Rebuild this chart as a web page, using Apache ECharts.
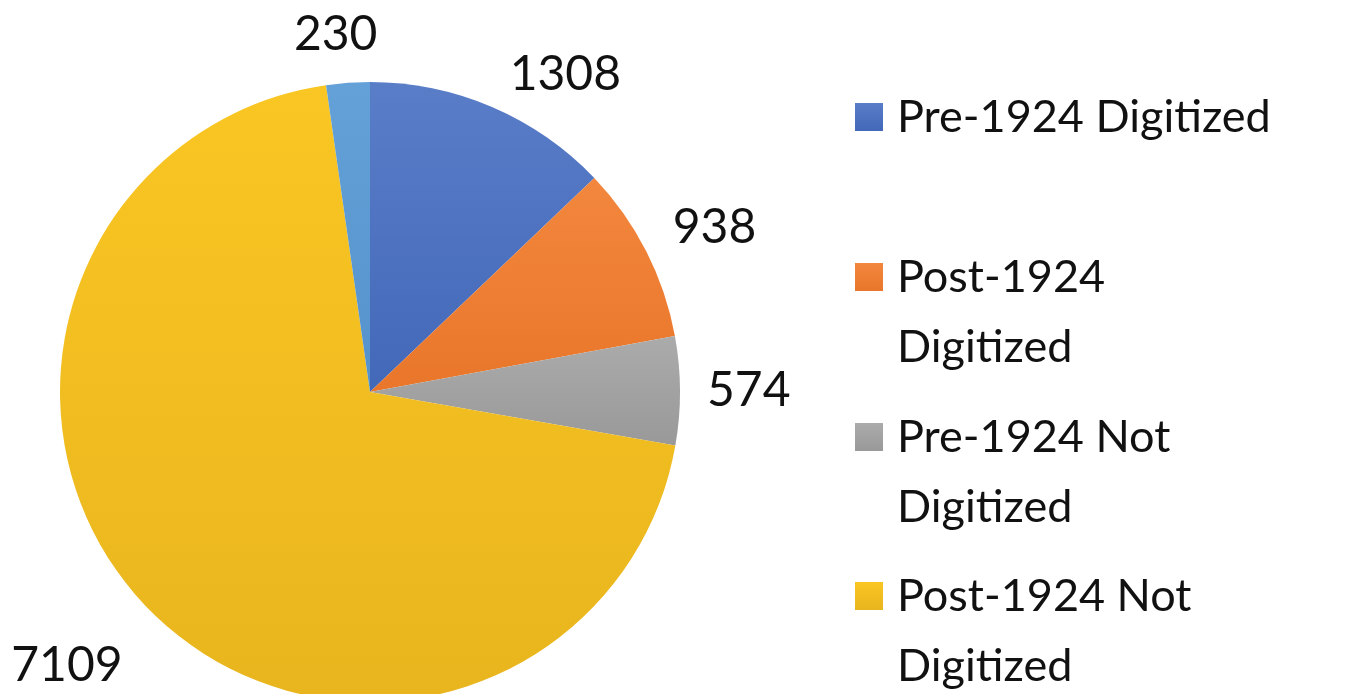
<!DOCTYPE html>
<html>
<head>
<meta charset="utf-8">
<script src="https://cdn.jsdelivr.net/npm/echarts@6/dist/echarts.min.js"></script>
<style>
  html, body { margin: 0; padding: 0; background: #ffffff; }
  #chart { width: 1360px; height: 694px; }
</style>
</head>
<body>
<div id="chart"></div>
<script>
// Holdings split by publication date and digitization status
const categories = [
  'Pre-1924 Digitized',
  'Post-1924 Digitized',
  'Pre-1924 Not Digitized',
  'Post-1924 Not Digitized',
  'Unclassified'
];
const counts = [1308, 938, 574, 7109, 230];
// Legend captions as wrapped in the key (the last slice has no key entry)
const legendCaptions = [
  'Pre-1924 Digitized',
  'Post-1924\nDigitized',
  'Pre-1924 Not\nDigitized',
  'Post-1924 Not\nDigitized'
];
const sliceColors = [
  ['#5a7dc8', '#4268b8'],
  ['#f2873d', '#e9762a'],
  ['#ababab', '#999999'],
  ['#fac623', '#e8b51e'],
  ['#63a1d8', '#5592cc']
];
// Small nudges for the value labels, per slice
const labelNudge = [[0, -12], [-2, -14], [-4, 0], [0, 42], [40, -26]];

const FONT = 'Lato, "Open Sans", sans-serif';

function grad(pair) {
  return new echarts.graphic.LinearGradient(0, 0, 0, 1, [
    { offset: 0, color: pair[0] },
    { offset: 1, color: pair[1] }
  ]);
}

const pieData = categories.map((name, i) => ({
  name: name,
  value: counts[i],
  itemStyle: { color: grad(sliceColors[i]) }
}));

// One legend block per entry; wrapped captions get a leading blank line so
// the icon lines up with the first caption line
const legendTops = [77, 167, 327, 486];
const legends = legendCaptions.map((cap, i) => {
  const wrapped = cap.indexOf('\n') >= 0;
  return {
    orient: 'vertical',
    left: 850,
    top: legendTops[i],
    data: [categories[i]],
    itemWidth: 28,
    itemHeight: 28,
    itemGap: 0,
    icon: 'rect',
    selectedMode: false,
    formatter: () => (wrapped ? ' \n' + cap : cap),
    textStyle: {
      fontFamily: FONT,
      fontSize: 45,
      color: '#111',
      lineHeight: 70,
      padding: [0, 0, 0, 9]
    }
  };
});

const chart = echarts.init(document.getElementById('chart'), null, { renderer: 'canvas' });
chart.setOption({
  backgroundColor: '#ffffff',
  animation: false,
  legend: legends,
  series: [{
    type: 'pie',
    center: [370, 392],
    radius: [0, 310],
    startAngle: 90,
    clockwise: true,
    avoidLabelOverlap: false,
    data: pieData,
    itemStyle: { borderWidth: 0 },
    label: {
      show: true,
      position: 'outside',
      formatter: '{c}',
      fontFamily: FONT,
      fontSize: 48,
      color: '#111'
    },
    labelLine: { show: false, length: 22, length2: 4 },
    labelLayout: (params) => ({
      dx: labelNudge[params.dataIndex][0],
      dy: labelNudge[params.dataIndex][1]
    }),
    emphasis: { disabled: true }
  }]
});
</script>
</body>
</html>
